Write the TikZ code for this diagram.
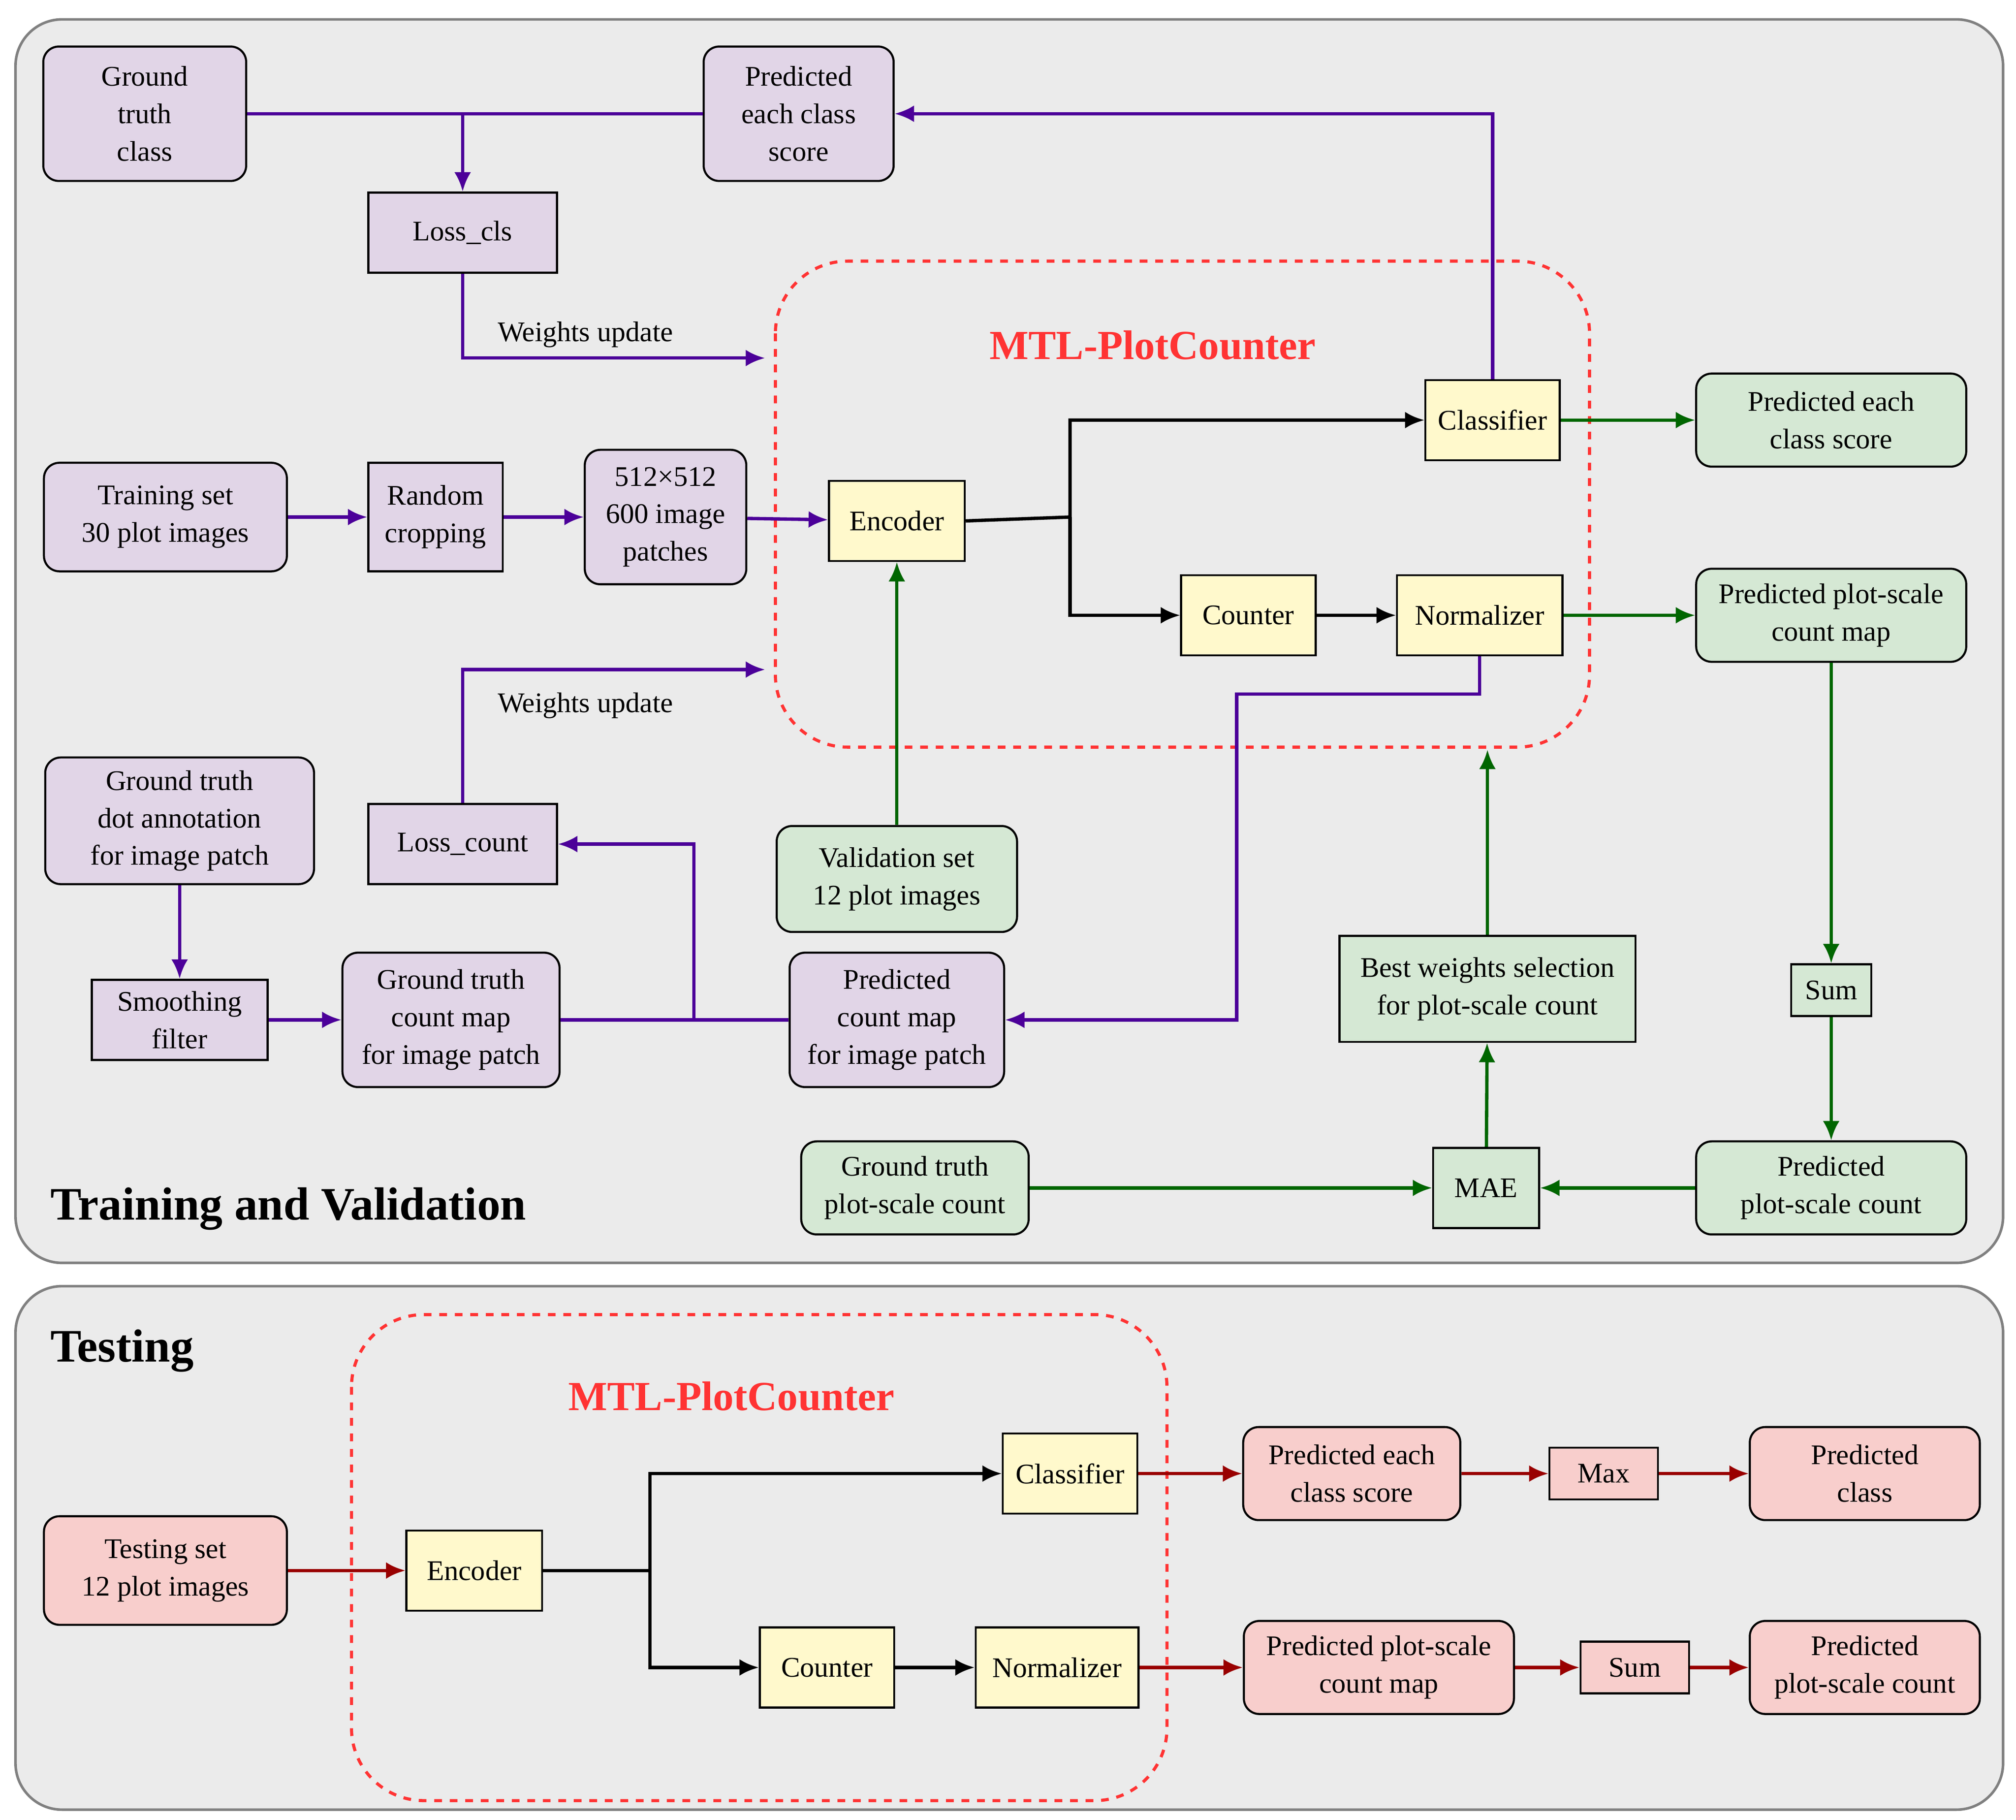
\documentclass[tikz,border=0pt]{standalone}
\usepackage{fontspec}
\setmainfont{Liberation Serif}
\usetikzlibrary{arrows.meta}
\definecolor{pp}{HTML}{E1D5E7}\definecolor{gg}{HTML}{D5E8D4}\definecolor{rr}{HTML}{F8CECC}
\definecolor{yy}{HTML}{FFF9CC}\definecolor{pl}{HTML}{4C0099}\definecolor{gl}{HTML}{006600}
\definecolor{rl}{HTML}{990000}\definecolor{bg}{HTML}{EBEBEB}\definecolor{mtl}{HTML}{FF3333}
\tikzset{
 bx/.style={draw,line width=0.8pt,align=center,inner sep=0pt,font=\fontsize{11}{14.5}\selectfont},
 rb/.style={bx,rounded corners=6pt},
 P/.style={fill=pp},G/.style={fill=gg},R/.style={fill=rr},Y/.style={bx,fill=yy},
 a/.style={line width=1.3pt,-{Latex[length=7.5pt,width=6.5pt]}},
 l/.style={line width=1.3pt},
}
\newcommand{\nd}[6]{\node[#1,minimum width=#4*0.5pt,minimum height=#5*0.5pt] (#2) at (#3) {#6};}
\begin{document}
\begin{tikzpicture}[x=0.5pt,y=-0.5pt]
\useasboundingbox (0,0) rectangle (1560,1408);
\draw[gray,line width=1pt,fill=bg,rounded corners=18pt] (12,15) rectangle (1550,977);
\draw[gray,line width=1pt,fill=bg,rounded corners=18pt] (12,995) rectangle (1550,1400);
\draw[mtl,dashed,line width=1.2pt,rounded corners=28pt] (600,202) rectangle (1230,578);
\draw[mtl,dashed,line width=1.2pt,rounded corners=28pt] (272,1017) rectangle (903,1393);
\node[mtl,font=\bfseries\fontsize{16}{18}\selectfont] at (892,267) {MTL-PlotCounter};
\node[mtl,font=\bfseries\fontsize{16}{18}\selectfont] at (566,1080) {MTL-PlotCounter};
\node[anchor=west,font=\bfseries\fontsize{18}{20}\selectfont] at (32,935) {Training and Validation};
\node[anchor=west,font=\bfseries\fontsize{18}{20}\selectfont] at (32,1045) {Testing};
% panel 1
\nd{rb,P}{gtc}{112,88}{157}{104}{Ground\\truth\\class}
\nd{rb,P}{pcs}{618,88}{147}{104}{Predicted\\each class\\score}
\nd{bx,P}{lcls}{358,180}{146}{62}{Loss\_cls}
\nd{rb,P}{trs}{128,400}{188}{84}{Training set\\30 plot images}
\nd{bx,P}{rc}{337,400}{104}{84}{Random\\cropping}
\nd{rb,P}{pat}{515,400}{125}{104}{512×512\\600 image\\patches}
\nd{Y}{enc}{694,403}{105}{62}{Encoder}
\nd{Y}{cls}{1155,325}{104}{62}{Classifier}
\nd{Y}{cnt}{966,476}{104}{62}{Counter}
\nd{Y}{nrm}{1145,476}{128}{62}{Normalizer}
\nd{rb,G}{pec}{1417,325}{209}{72}{Predicted each\\class score}
\nd{rb,G}{pmap}{1417,476}{209}{72}{Predicted plot-scale\\count map}
\nd{bx,G}{sum}{1417,766}{62}{40}{Sum}
\nd{rb,G}{pcount}{1417,919}{209}{72}{Predicted\\plot-scale count}
\nd{bx,G}{mae}{1150,919}{82}{62}{MAE}
\nd{bx,G}{best}{1151,765}{229}{82}{Best weights selection\\for plot-scale count}
\nd{rb,G}{gtp}{708,919}{176}{72}{Ground truth\\plot-scale count}
\nd{rb,G}{val}{694,680}{186}{82}{Validation set\\12 plot images}
\nd{rb,P}{gtd}{139,635}{208}{98}{Ground truth\\dot annotation\\for image patch}
\nd{bx,P}{smf}{139,789}{136}{62}{Smoothing\\filter}
\nd{rb,P}{gtm}{349,789}{168}{104}{Ground truth\\count map\\for image patch}
\nd{bx,P}{lcnt}{358,653}{146}{62}{Loss\_count}
\nd{rb,P}{pcm}{694,789}{166}{104}{Predicted\\count map\\for image patch}
\coordinate (w1) at (592,277);\coordinate (w2) at (592,518);\coordinate (bt) at (1151,580);
\draw[l,pl] (gtc.east) -- (pcs.west);
\draw[a,pl] (358,88) -- (lcls.north);
\draw[a,pl] (cls.north) |- (pcs.east);
\draw[a,pl] (lcls.south) |- (w1);
\node[font=\fontsize{11}{13}\selectfont] at (453,259) {Weights update};
\draw[a,pl] (lcnt.north) |- (w2);
\node[font=\fontsize{11}{13}\selectfont] at (453,546) {Weights update};
\draw[a,pl] (trs) -- (rc);\draw[a,pl] (rc) -- (pat);\draw[a,pl] (pat) -- (enc);
\draw[a] (enc.east) -- (828,400) |- (cls.west);
\draw[a] (828,400) |- (cnt.west);
\draw[a] (cnt) -- (nrm);
\draw[a,gl] (cls) -- (pec);\draw[a,gl] (nrm) -- (pmap);
\draw[a,gl] (pmap) -- (sum);\draw[a,gl] (sum) -- (pcount);
\draw[a,gl] (pcount) -- (mae);\draw[a,gl] (gtp) -- (mae);
\draw[a,gl] (mae) -- (best);\draw[a,gl] (best) -- (bt);
\draw[a,gl] (val) -- (enc);
\draw[a,pl] (nrm.south) -- (1145,537) -- (957,537) |- (pcm.east);
\draw[a,pl] (gtd) -- (smf);\draw[a,pl] (smf) -- (gtm);
\draw[l,pl] (gtm.east) -- (pcm.west);
\draw[a,pl] (537,789) |- (lcnt.east);
% panel 2
\nd{rb,R}{ts}{128,1215}{188}{84}{Testing set\\12 plot images}
\nd{Y}{enc2}{367,1215}{105}{62}{Encoder}
\nd{Y}{cls2}{828,1140}{104}{62}{Classifier}
\nd{Y}{cnt2}{640,1290}{104}{62}{Counter}
\nd{Y}{nrm2}{818,1290}{126}{62}{Normalizer}
\nd{rb,R}{pec2}{1046,1140}{168}{72}{Predicted each\\class score}
\nd{bx,R}{max}{1241,1140}{84}{40}{Max}
\nd{rb,R}{pc2}{1443,1140}{178}{72}{Predicted\\class}
\nd{rb,R}{pm2}{1067,1290}{209}{72}{Predicted plot-scale\\count map}
\nd{bx,R}{sum2}{1265,1290}{84}{40}{Sum}
\nd{rb,R}{pct2}{1443,1290}{178}{72}{Predicted\\plot-scale count}
\draw[a,rl] (ts) -- (enc2);
\draw[a] (enc2.east) -- (503,1215) |- (cls2.west);
\draw[a] (503,1215) |- (cnt2.west);
\draw[a] (cnt2) -- (nrm2);
\draw[a,rl] (cls2) -- (pec2);\draw[a,rl] (pec2) -- (max);\draw[a,rl] (max) -- (pc2);
\draw[a,rl] (nrm2) -- (pm2);\draw[a,rl] (pm2) -- (sum2);\draw[a,rl] (sum2) -- (pct2);
\end{tikzpicture}
\end{document}
